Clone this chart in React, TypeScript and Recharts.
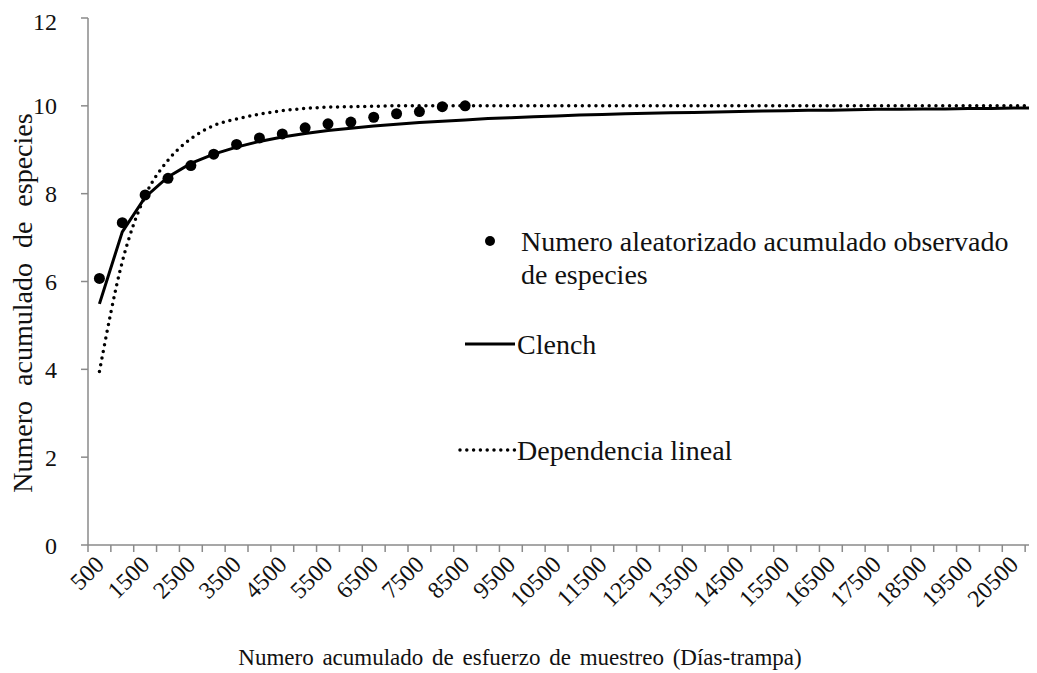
import React from 'react';
import { LineChart, Line, XAxis, YAxis } from 'recharts';

// Sampling effort (Días-trampa) categories
const efforts = [
  500, 1000, 1500, 2000, 2500, 3000, 3500, 4000, 4500, 5000,
  5500, 6000, 6500, 7000, 7500, 8000, 8500, 9000, 9500, 10000,
  10500, 11000, 11500, 12000, 12500, 13000, 13500, 14000, 14500, 15000,
  15500, 16000, 16500, 17000, 17500, 18000, 18500, 19000, 19500, 20000,
  20500, 21000,
];

// Observed randomized accumulated number of species
const observed = [
  6.07, 7.34, 7.97, 8.35, 8.64, 8.9, 9.12, 9.27, 9.36, 9.5,
  9.59, 9.63, 9.74, 9.82, 9.87, 9.98, 10.0,
];

// Clench model
const clench = [
  5.49, 7.13, 7.92, 8.38, 8.69, 8.9, 9.06, 9.19, 9.29, 9.37,
  9.44, 9.49, 9.54, 9.58, 9.62, 9.65, 9.68, 9.71, 9.73, 9.75,
  9.77, 9.79, 9.8, 9.82, 9.83, 9.84, 9.85, 9.86, 9.87, 9.88,
  9.89, 9.9, 9.9, 9.91, 9.92, 9.92, 9.93, 9.93, 9.94, 9.94,
  9.95, 9.95,
];

// Dependencia lineal model
const linearDep = [
  3.95, 6.45, 7.95, 8.76, 9.25, 9.55, 9.7, 9.81, 9.89, 9.94,
  9.97, 9.98, 9.99, 10.0, 10.0, 10.0, 10.0, 10.0, 10.0, 10.0,
  10.0, 10.0, 10.0, 10.0, 10.0, 10.0, 10.0, 10.0, 10.0, 10.0,
  10.0, 10.0, 10.0, 10.0, 10.0, 10.0, 10.0, 10.0, 10.0, 10.0,
  10.0, 10.0,
];

const xLabelTicks = [
  500, 1500, 2500, 3500, 4500, 5500, 6500, 7500, 8500, 9500,
  10500, 11500, 12500, 13500, 14500, 15500, 16500, 17500, 18500, 19500,
  20500,
];
const yTicks = [0, 2, 4, 6, 8, 10, 12];

// category boundaries (Excel-style tick marks between categories)
const HALF_STEP = 250;
const boundaryTicks = [efforts[0] - HALF_STEP, ...efforts.map((e) => e + HALF_STEP)];
const xDomain = [boundaryTicks[0], boundaryTicks[boundaryTicks.length - 1]];
const allXTicks = [...boundaryTicks, ...xLabelTicks].sort((a, b) => a - b);
const labelSet = new Set(xLabelTicks);

const data = efforts.map((x, i) => ({
  x,
  observed: i < observed.length ? observed[i] : null,
  clench: clench[i],
  linear: linearDep[i],
}));

const FONT = 'Liberation Serif, Tinos, DejaVu Serif, serif';
const AXIS = '#8a8a8a';
const INK = '#111';

const XTick = (props: any) => {
  const { x, y, payload } = props;
  if (labelSet.has(payload.value)) {
    return (
      <g transform={`translate(${x},${y + 15})`}>
        <text
          transform="rotate(-45)"
          textAnchor="end"
          dy="0.35em"
          fontSize={24}
          style={{ fontFamily: FONT }}
          fill={INK}
        >
          {payload.value}
        </text>
      </g>
    );
  }
  return <line x1={x} y1={y} x2={x} y2={y + 7} stroke={AXIS} strokeWidth={1.5} />;
};

const YTitle = () => (
  <text
    transform="translate(14,295) rotate(-90)"
    textAnchor="middle"
    dominantBaseline="central"
    fontSize={28}
    fill={INK}
    style={{ fontFamily: FONT, wordSpacing: '8px' }}
  >
    Numero acumulado de especies
  </text>
);

const XTitle = () => (
  <text
    x={512}
    y={649}
    textAnchor="middle"
    dominantBaseline="central"
    fontSize={23}
    fill={INK}
    style={{ fontFamily: FONT, wordSpacing: '3px' }}
  >
    Numero acumulado de esfuerzo de muestreo (Días-trampa)
  </text>
);

const legendText = { fontFamily: FONT };

const LegendBox = () => (
  <svg
    width={580}
    height={260}
    style={{ position: 'absolute', left: 449, top: 207, overflow: 'visible' }}
  >
    <circle cx={33} cy={26} r={5} fill="#000" />
    <text x={64} y={26} dominantBaseline="central" fontSize={28} fill={INK} style={legendText}>
      Numero aleatorizado acumulado observado
    </text>
    <text x={64} y={59} dominantBaseline="central" fontSize={28} fill={INK} style={legendText}>
      de especies
    </text>
    <line x1={8} y1={129} x2={58} y2={129} stroke="#000" strokeWidth={3} />
    <text x={60} y={129} dominantBaseline="central" fontSize={28} fill={INK} style={legendText}>
      Clench
    </text>
    <line
      x1={3}
      y1={235}
      x2={58}
      y2={235}
      stroke="#000"
      strokeWidth={3.5}
      strokeDasharray="0 6.8"
      strokeLinecap="round"
    />
    <text x={60} y={235} dominantBaseline="central" fontSize={28} fill={INK} style={legendText}>
      Dependencia lineal
    </text>
  </svg>
);

export default function App() {
  return (
    <div style={{ position: 'relative', width: 1029, height: 665, overflow: 'hidden', background: '#fff' }}>
      <LineChart
        width={1040}
        height={665}
        data={data}
        margin={{ top: 10, right: 0, bottom: 0, left: 0 }}
      >
        <XAxis
          dataKey="x"
          type="number"
          domain={xDomain}
          ticks={allXTicks}
          allowDataOverflow
          interval={0}
          tickSize={0}
          tickMargin={0}
          tickLine={false}
          height={128}
          axisLine={{ stroke: AXIS, strokeWidth: 1.5 }}
          tick={<XTick />}
        />
        <YAxis
          domain={[0, 12]}
          ticks={yTicks}
          width={80}
          tickSize={7}
          tickMargin={24}
          axisLine={{ stroke: AXIS, strokeWidth: 1.5 }}
          tickLine={{ stroke: AXIS, strokeWidth: 1.5 }}
          tick={{ fontSize: 24, fill: INK, style: { fontFamily: FONT } }}
        />
        <Line
          dataKey="linear"
          type="monotone"
          stroke="#000"
          strokeWidth={3.5}
          strokeDasharray="0 6.8"
          strokeLinecap="round"
          dot={false}
          isAnimationActive={false}
        />
        <Line
          dataKey="clench"
          type="linear"
          stroke="#000"
          strokeWidth={3}
          dot={false}
          isAnimationActive={false}
        />
        <Line
          dataKey="observed"
          stroke="none"
          dot={{ r: 5.5, fill: '#000', stroke: 'none' }}
          activeDot={false}
          isAnimationActive={false}
        />
        <YTitle />
        <XTitle />
      </LineChart>
      <LegendBox />
    </div>
  );
}
